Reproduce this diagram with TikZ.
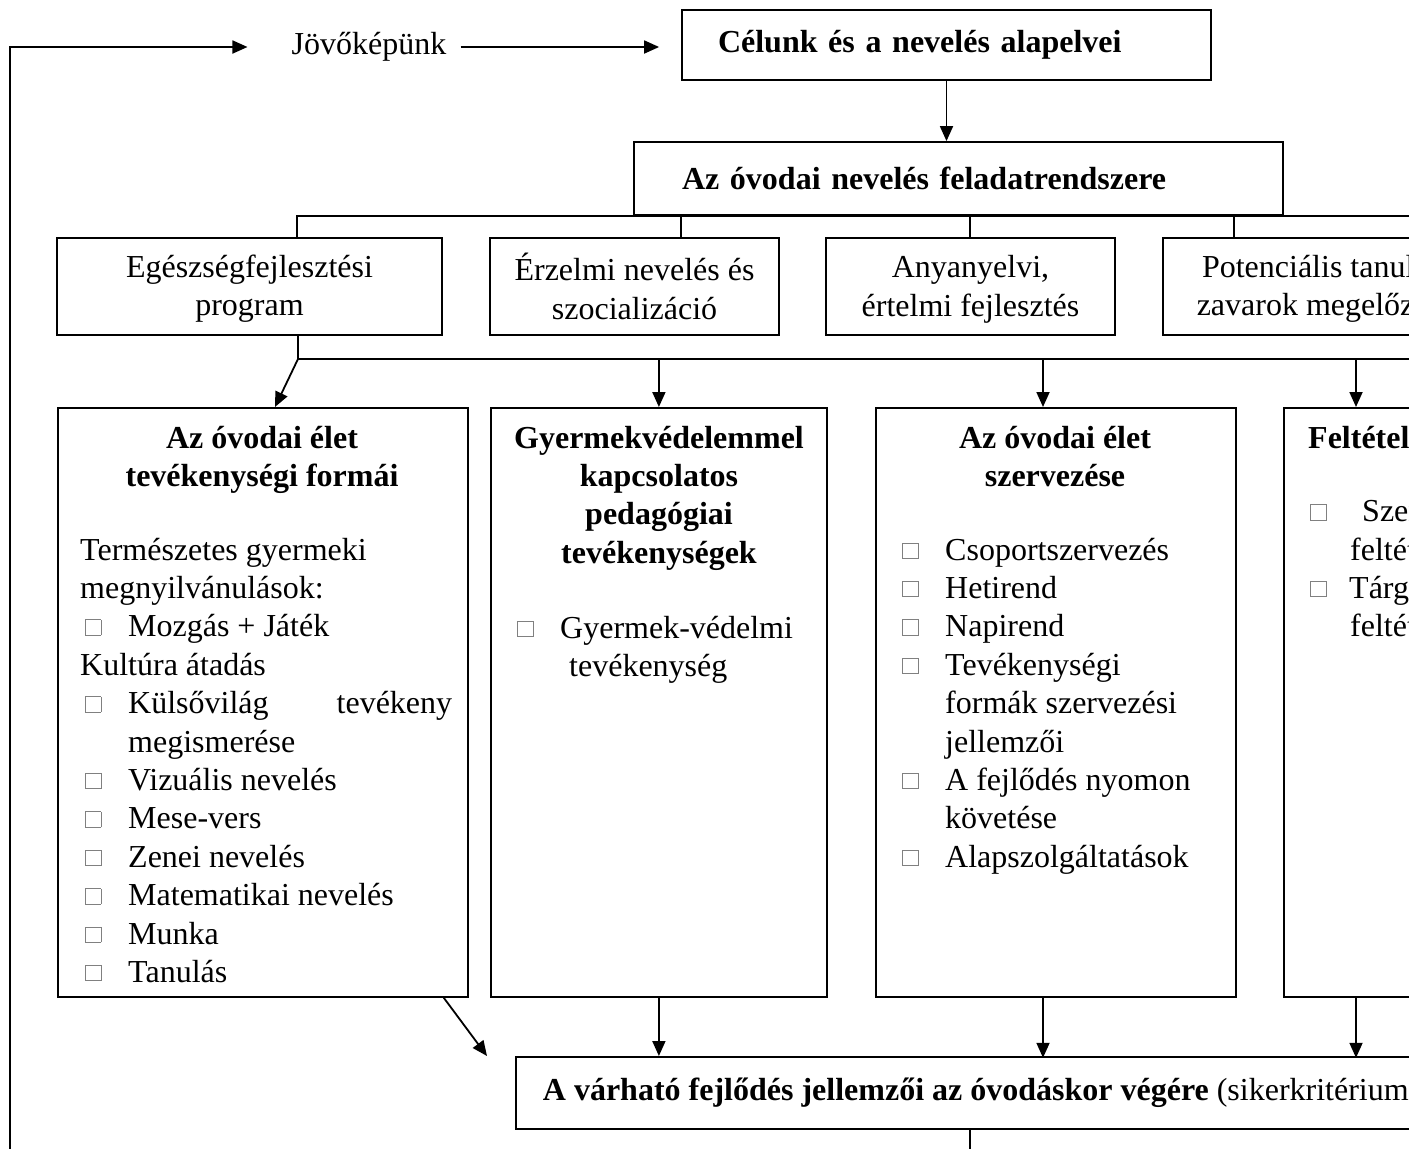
\documentclass[tikz,border=0pt]{standalone}
\usepackage{fontspec}
\setmainfont{Liberation Serif}
\usetikzlibrary{arrows.meta}
\newcommand{\sq}{\makebox[43pt][l]{\raisebox{2pt}{\textcolor{black!50}{\setlength{\fboxsep}{0pt}\setlength{\fboxrule}{0.9pt}\fbox{\rule{0pt}{14.5pt}\rule{14.5pt}{0pt}}}}}}

\tikzset{
	rbox/.style={draw, line width=1.8pt, inner sep=0pt},
	ln/.style={line width=1.8pt},
	arr/.style={line width=1.8pt, -{Triangle[length=15pt,width=13pt]}},
}

\begin{document}
\begin{tikzpicture}[x=1pt, y=-1pt, font=\fontsize{32}{38.4}\selectfont]
		%%%%% START %%%%%
		\useasboundingbox[fill=white] (0,0) rectangle (1409,1149);
		\clip (0,0) rectangle (1409,1149);
		
		\node[inner sep=0] (jovo) at (369,47) {Jövőképünk};
		\node[rbox, minimum width=529pt, minimum height=70pt, text width=457pt, inner xsep=36pt, align=left] (celunk) at (946.5,45) {\textbf{Célunk és a nevelés alapelvei}};
		\node[rbox, minimum width=649pt, minimum height=73pt, text width=553pt, inner xsep=48pt, align=left] (feladat) at (958.5,178.5) {\textbf{Az óvodai nevelés feladatrendszere}};
		
		\node[rbox, minimum width=385pt, minimum height=97pt, align=center] (b1) at (249.5,286.5) {\vphantom{É}Egészségfejlesztési\\program};
		\node[rbox, minimum width=289pt, minimum height=97pt, align=center] (b2) at (634.5,286.5) {Érzelmi nevelés és\\szocializáció};
		\node[rbox, minimum width=289pt, minimum height=97pt, align=center] (b3) at (970.5,286.5) {\vphantom{É}Anyanyelvi,\\értelmi fejlesztés};
		\node[rbox, minimum width=326pt, minimum height=97pt, align=center] (b4) at (1326,286.5) {\vphantom{É}Potenciális tanulási\\zavarok megelőzése};
		
		\node[rbox, minimum width=410pt, minimum height=589pt, anchor=north west] (ba) at (57,407) {};
		\node[rbox, minimum width=336pt, minimum height=589pt, anchor=north west] (bb) at (490,407) {};
		\node[rbox, minimum width=360pt, minimum height=589pt, anchor=north west] (bc) at (875,407) {};
		\node[rbox, minimum width=300pt, minimum height=589pt, anchor=north west] (bd) at (1283,407) {};
		
		\node[rbox, minimum height=72pt, inner xsep=27pt, anchor=north west] (vegere) at (515,1056) {\textbf{A várható fejlődés jellemzői az óvodáskor végére} (sikerkritériumok)};
		
		% box titles
		\node[anchor=base, inner sep=0] (ta) at (262,448) {\begin{tabular}[t]{@{}c@{}}\textbf{Az óvodai élet}\\\textbf{tevékenységi formái}\end{tabular}};
		\node[anchor=base, inner sep=0] (tb) at (659,448) {\begin{tabular}[t]{@{}c@{}}\textbf{Gyermekvédelemmel}\\\textbf{kapcsolatos}\\\textbf{pedagógiai}\\\textbf{tevékenységek}\end{tabular}};
		\node[anchor=base, inner sep=0] (tc) at (1055,448) {\begin{tabular}[t]{@{}c@{}}\textbf{Az óvodai élet}\\\textbf{szervezése}\end{tabular}};
		\node[anchor=base west, inner sep=0] (td) at (1308,448) {\textbf{Feltételrendszer}};
		
		% box lists
		\node[anchor=base west, inner sep=0] (lista) at (80,560) {\begin{tabular}[t]{@{}l@{}}
			Természetes gyermeki\\
			megnyilvánulások:\\
			\hspace*{5pt}\sq Mozgás + Játék\\
			Kultúra átadás\\
			\hspace*{5pt}\sq\makebox[324pt][l]{Külsővilág\hfill tevékeny}\\
			\hspace*{48pt}megismerése\\
			\hspace*{5pt}\sq Vizuális nevelés\\
			\hspace*{5pt}\sq Mese-vers\\
			\hspace*{5pt}\sq Zenei nevelés\\
			\hspace*{5pt}\sq Matematikai nevelés\\
			\hspace*{5pt}\sq Munka\\
			\hspace*{5pt}\sq Tanulás
		\end{tabular}};
		\node[anchor=base west, inner sep=0] (listb) at (517,638.4) {\begin{tabular}[t]{@{}l@{}}
			\sq Gyermek-védelmi\\
			\hspace*{52pt}tevékenység
		\end{tabular}};
		\node[anchor=base west, inner sep=0] (listc) at (902,560) {\begin{tabular}[t]{@{}l@{}}
			\sq Csoportszervezés\\
			\sq Hetirend\\
			\sq Napirend\\
			\sq Tevékenységi\\
			\hspace*{43pt}formák szervezési\\
			\hspace*{43pt}jellemzői\\
			\sq A fejlődés nyomon\\
			\hspace*{43pt}követése\\
			\sq Alapszolgáltatások
		\end{tabular}};
		\node[anchor=base west, inner sep=0] (listd) at (1310,521.6) {\begin{tabular}[t]{@{}l@{}}
			\sq\hspace*{9pt}Személyi\\
			\hspace*{40pt}feltételek\\
			\sq\hspace*{-4pt}Tárgyi\\
			\hspace*{40pt}feltételek
		\end{tabular}};
		
		% connectors
		\coordinate (back) at (10,1170);
		\draw[arr, shorten >=44pt] (back) |- (jovo.west);
		\draw[arr, shorten >=22pt] ([xshift=14pt]jovo.east) -- (jovo.east -| celunk.west);
		\draw[arr] (celunk.south) -- (celunk.south |- feladat.north);
		
		\draw[ln] ([xshift=241pt]b1.north west) |- ([xshift=140pt]feladat.south east);
		\draw[ln] ([xshift=192pt]b2.north west) -- ++(0,-23);
		\draw[ln] ([xshift=145pt]b3.north west) -- ++(0,-23);
		\draw[ln] ([xshift=72pt]b4.north west) -- ++(0,-23);
		
		\coordinate (bus) at (298,359);
		\draw[ln] (bus |- b1.south) -- (bus) -- ++(1130,0);
		\draw[arr] (bus) -- ([xshift=218pt]ba.north west);
		\draw[arr] (bb.north) ++(0,-48) -- (bb.north);
		\draw[arr] ([xshift=168pt]bc.north west) ++(0,-48) -- ++(0,48);
		\draw[arr] ([xshift=73pt]bd.north west) ++(0,-48) -- ++(0,48);
		
		\draw[arr] ([xshift=-25pt]ba.south east) -- ([xshift=-28pt]vegere.north west);
		\draw[arr] (bb.south) -- (bb.south |- vegere.north);
		\draw[arr] ([xshift=168pt]bc.south west) -- ++(0,60);
		\draw[arr] ([xshift=73pt]bd.south west) -- ++(0,60);
		\draw[ln] ([xshift=455pt]vegere.south west) -- ++(0,40);
		%%%%% END %%%%%
\end{tikzpicture}
\end{document}
